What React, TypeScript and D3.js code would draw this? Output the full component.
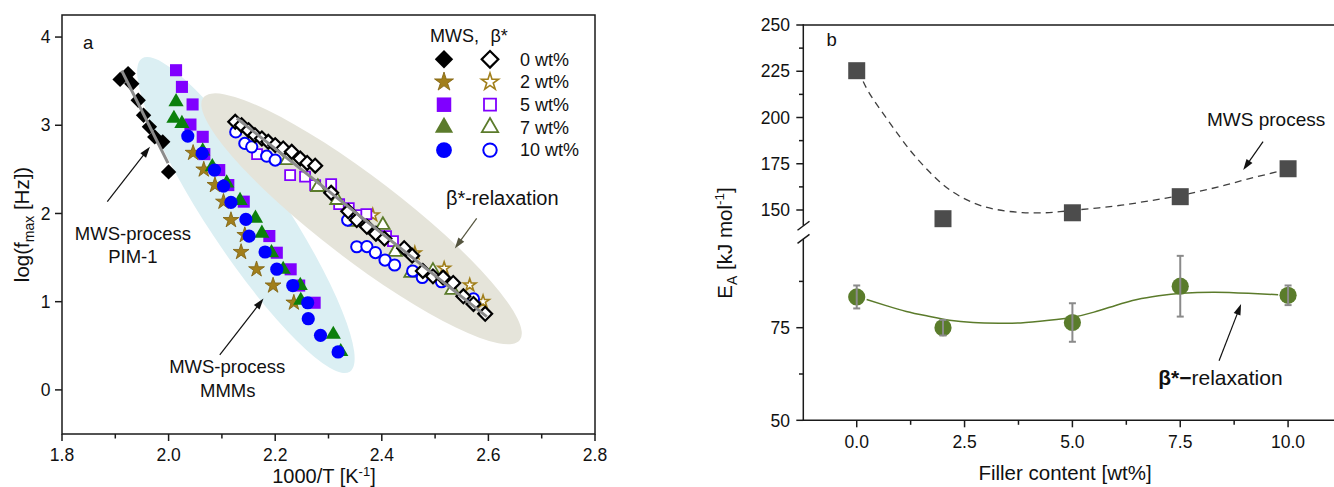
import React from "react";
import * as d3 from "d3";

// ---------- Panel a: Arrhenius plot ----------
// MWS process, PIM-1 (filled diamonds)
const mwsPim = [
  [1.909, 3.52], [1.924, 3.586], [1.931, 3.47], [1.943, 3.284], [1.953, 3.114],
  [1.964, 2.982], [1.974, 2.868], [1.989, 2.812], [2.0, 2.471],
];
// MWS process, MMMs
const mws2 = [
  [2.046, 2.687], [2.066, 2.498], [2.087, 2.322], [2.103, 2.133], [2.117, 1.925],
  [2.143, 1.755], [2.136, 1.563], [2.165, 1.367], [2.196, 1.183], [2.235, 0.989],
];
const mws5 = [
  [2.014, 3.624], [2.025, 3.435], [2.045, 3.236], [2.041, 3.008], [2.064, 2.869],
  [2.067, 2.673], [2.095, 2.492], [2.112, 2.322], [2.141, 2.134], [2.189, 1.744],
  [2.203, 1.555], [2.229, 1.367], [2.245, 1.183], [2.274, 0.988],
];
const mws7 = [
  [2.014, 3.265], [2.01, 3.077], [2.025, 3.019], [2.064, 2.707], [2.082, 2.529],
  [2.109, 2.344], [2.134, 2.146], [2.163, 1.945], [2.175, 1.775], [2.193, 1.554],
  [2.215, 1.366], [2.247, 1.183], [2.248, 1.014], [2.309, 0.629], [2.323, 0.433],
];
const mws10 = [
  [2.036, 2.877], [2.063, 2.681], [2.086, 2.492], [2.103, 2.31], [2.117, 2.126],
  [2.145, 1.933], [2.151, 1.744], [2.181, 1.563], [2.203, 1.368], [2.233, 1.183],
  [2.261, 0.988], [2.262, 0.807], [2.285, 0.619], [2.318, 0.43],
];
// beta*-relaxation (open symbols)
const beta0 = [
  [2.125, 3.039], [2.137, 3.001], [2.15, 2.944], [2.162, 2.888], [2.175, 2.85],
  [2.187, 2.812], [2.2, 2.775], [2.215, 2.737], [2.231, 2.699], [2.247, 2.623],
  [2.26, 2.573], [2.275, 2.542], [2.305, 2.234], [2.337, 2.024], [2.353, 1.925],
  [2.372, 1.849], [2.389, 1.771], [2.405, 1.715], [2.442, 1.607], [2.457, 1.522],
  [2.477, 1.348], [2.496, 1.287], [2.515, 1.274], [2.534, 1.212], [2.553, 1.061],
  [2.572, 0.974], [2.594, 0.863],
];
const beta2 = [
  [2.383, 1.982], [2.462, 1.552], [2.517, 1.378], [2.565, 1.189], [2.59, 1.002],
];
const beta5 = [
  [2.166, 2.673], [2.228, 2.435], [2.256, 2.418], [2.275, 2.322], [2.305, 2.333],
  [2.32, 2.107], [2.338, 2.061], [2.353, 1.982], [2.371, 1.993], [2.408, 1.744],
  [2.421, 1.687],
];
const beta7 = [
  [2.222, 2.605], [2.28, 2.299], [2.316, 2.152], [2.35, 1.903], [2.402, 1.869],
  [2.425, 1.563], [2.455, 1.325], [2.496, 1.348], [2.532, 1.133],
];
const beta10 = [
  [2.126, 2.925], [2.143, 2.794], [2.156, 2.755], [2.184, 2.65], [2.2, 2.605],
  [2.336, 1.925], [2.353, 1.623], [2.372, 1.625], [2.388, 1.557], [2.406, 1.472],
  [2.424, 1.416], [2.458, 1.348], [2.476, 1.274], [2.512, 1.226], [2.572, 1.031],
];
// linear fits
const fitPim = [[1.912, 3.62], [1.999, 2.57]];
const fitBeta = [[2.128, 3.08], [2.597, 0.83]];

const xTicksA = [1.8, 2.0, 2.2, 2.4, 2.6, 2.8];
const xMinorA = [1.9, 2.1, 2.3, 2.5, 2.7];
const yTicksA = [0, 1, 2, 3, 4];
const legendLabels = ["0 wt%", "2 wt%", "5 wt%", "7 wt%", "10 wt%"];

// ---------- Panel b: activation energies ----------
const filler = [0, 2, 5, 7.5, 10];
const eaMws = [225.3, 145.3, 148.5, 157.2, 172.3];
const eaBeta = [83.3, 75.0, 76.4, 86.2, 83.75];
const eaBetaErr = [3.1, 2.1, 5.2, 8.2, 2.65];
const mwsGuide = [
  [0.15, 219.5], [0.35, 211], [0.77, 197], [1.23, 182.5], [1.69, 170.5],
  [2.15, 161], [2.69, 154], [3.23, 150.3], [3.84, 148.6], [4.46, 148.6],
  [5.0, 149.8], [5.62, 151.2], [6.2, 152.8], [6.77, 154.9], [7.35, 157.2],
  [7.93, 160], [8.5, 163.2], [9.08, 166.8], [9.77, 170.8],
];
const betaGuide = [
  [0.23, 82.6], [0.7, 80.9], [1.15, 79.4], [1.7, 78.0], [2.15, 77.0],
  [2.7, 76.4], [3.3, 76.2], [3.8, 76.3], [4.46, 77.0], [5.0, 77.8],
  [5.5, 79.2], [6.0, 81.0], [6.5, 82.6], [7.0, 83.6], [7.54, 84.3],
  [8.3, 84.6], [9.08, 84.3], [9.77, 83.9],
];
const xTicksB = [0, 2.5, 5, 7.5, 10];
const xMinorB = [1.25, 3.75, 6.25, 8.75];
const yTicksLo = [50, 75];
const yMinorLo = [62.5, 87.5];
const yTicksHi = [150, 175, 200, 225, 250];
const yMinorHi = [162.5, 187.5, 212.5, 237.5];

const FONT = "'Liberation Sans', Arial, Helvetica, sans-serif";
const AX = "#1a1a1a";

const sym = (type: any, size: number) => d3.symbol().type(type).size(size)() as string;

// scales
const xA = d3.scaleLinear().domain([1.8, 2.8]).range([62, 595]);
const yA = d3.scaleLinear().domain([-0.5, 4.25]).range([434, 15]);
const xB = d3.scaleLinear().domain([-1.25, 11.25]).range([802.8, 1342]);
const yLo = d3.scaleLinear().domain([50, 100]).range([420.3, 235.1]);
const yHi = d3.scaleLinear().domain([140, 250]).range([228.5, 25]);

const COL = {
  star: "#a17f1b",
  starEdge: "#7d5f0c",
  purple: "#8000ff",
  green: "#0c800c",
  olive: "#5b7b2b",
  blue: "#0000ff",
};

type Pt = number[];

function Ellipse({ a, b, halfWidth, fill }: { a: Pt; b: Pt; halfWidth: number; fill: string }) {
  const x1 = xA(a[0]), y1 = yA(a[1]), x2 = xA(b[0]), y2 = yA(b[1]);
  const cx = (x1 + x2) / 2, cy = (y1 + y2) / 2;
  const rx = Math.hypot(x2 - x1, y2 - y1) / 2;
  const ang = (Math.atan2(y2 - y1, x2 - x1) * 180) / Math.PI;
  return <ellipse cx={cx} cy={cy} rx={rx} ry={halfWidth} fill={fill} transform={`rotate(${ang} ${cx} ${cy})`} />;
}

function Marker({ kind, x, y, open, big }: { kind: string; x: number; y: number; open?: boolean; big?: boolean }) {
  const k = big ? 1.2 : 1;
  const t = `translate(${x},${y})`;
  if (kind === "diamond") {
    return open ? (
      <path d={sym(d3.symbolSquare, 96 * k * k)} transform={`${t} rotate(45)`} fill="#fff" stroke="#000" strokeWidth={2.2} />
    ) : (
      <path d={sym(d3.symbolSquare, 118 * k * k)} transform={`${t} rotate(45)`} fill="#000" />
    );
  }
  if (kind === "star") {
    return open ? (
      <path d={sym(d3.symbolStar, 48 * k * k * (big ? 1.3 : 1))} transform={t} fill="#fff" stroke={COL.star} strokeWidth={1.6} />
    ) : (
      <path d={sym(d3.symbolStar, 78 * k * k)} transform={t} fill={COL.star} stroke={COL.starEdge} strokeWidth={0.8} />
    );
  }
  if (kind === "square") {
    return open ? (
      <path d={sym(d3.symbolSquare, 100 * k * k)} transform={t} fill="#fff" stroke={COL.purple} strokeWidth={1.8} />
    ) : (
      <path d={sym(d3.symbolSquare, 146 * k * k)} transform={t} fill={COL.purple} />
    );
  }
  if (kind === "triangle") {
    return open ? (
      <path d={sym(d3.symbolTriangle, 80 * k * k)} transform={t} fill="#fff" stroke={COL.olive} strokeWidth={1.8} />
    ) : (
      <path d={sym(d3.symbolTriangle, 100 * k * k)} transform={t} fill={big ? COL.olive : COL.green} />
    );
  }
  return open ? (
    <circle cx={x} cy={y} r={5.6 * k} fill="#fff" stroke={COL.blue} strokeWidth={2} />
  ) : (
    <circle cx={x} cy={y} r={6.6 * k} fill={COL.blue} />
  );
}

function Arrow({ from, to, color, width = 1.2, head = 11, half = 3.6 }: any) {
  const [x1, y1] = from, [x2, y2] = to;
  const ang = Math.atan2(y2 - y1, x2 - x1);
  const bx = x2 - head * Math.cos(ang), by = y2 - head * Math.sin(ang);
  const nx = -Math.sin(ang) * half, ny = Math.cos(ang) * half;
  return (
    <g>
      <line x1={x1} y1={y1} x2={bx + Math.cos(ang) * 2} y2={by + Math.sin(ang) * 2} stroke={color} strokeWidth={width} />
      <path d={`M${x2},${y2}L${bx + nx},${by + ny}L${bx - nx},${by - ny}Z`} fill={color} />
    </g>
  );
}

function PanelA() {
  const series: { data: number[][]; kind: string; open: boolean }[] = [
    { data: mwsPim, kind: "diamond", open: false },
    { data: mws2, kind: "star", open: false },
    { data: mws5, kind: "square", open: false },
    { data: mws7, kind: "triangle", open: false },
    { data: mws10, kind: "circle", open: false },
    { data: beta2, kind: "star", open: true },
    { data: beta5, kind: "square", open: true },
    { data: beta7, kind: "triangle", open: true },
    { data: beta10, kind: "circle", open: true },
    { data: beta0, kind: "diamond", open: true },
  ];
  const kinds = ["diamond", "star", "square", "triangle", "circle"];
  const legRow0 = 59.3, legStep = 22.7;
  return (
    <g fontFamily={FONT}>
      {/* highlight regions */}
      <Ellipse a={[1.95, 3.757]} b={[2.34, 0.207]} halfWidth={38.5} fill="#dbeff3" />
      <Ellipse a={[2.065, 3.313]} b={[2.659, 0.566]} halfWidth={41} fill="#e5e4da" />

      {series.map((s, i) => (
        <g key={i}>
          {s.data.map((d, j) => (
            <Marker key={j} kind={s.kind} open={s.open} x={xA(d[0])} y={yA(d[1])} />
          ))}
        </g>
      ))}
      {[fitPim, fitBeta].map((f, i) => (
        <line key={i} x1={xA(f[0][0])} y1={yA(f[0][1])} x2={xA(f[1][0])} y2={yA(f[1][1])} stroke="#8c8c8c" strokeWidth={3} />
      ))}

      {/* frame and axes */}
      <rect x={62} y={15} width={533} height={419} fill="none" stroke={AX} strokeWidth={1.5} />
      {xTicksA.map((t) => (
        <g key={t}>
          <line x1={xA(t)} x2={xA(t)} y1={434} y2={441} stroke={AX} strokeWidth={1.5} />
          <text x={xA(t)} y={461} fontSize={17.5} textAnchor="middle" fill="#111">{t.toFixed(1)}</text>
        </g>
      ))}
      {xMinorA.map((t) => (
        <line key={t} x1={xA(t)} x2={xA(t)} y1={434} y2={438.5} stroke={AX} strokeWidth={1.5} />
      ))}
      {yTicksA.map((t) => (
        <g key={t}>
          <line x1={55} x2={62} y1={yA(t)} y2={yA(t)} stroke={AX} strokeWidth={1.5} />
          <text x={50.5} y={yA(t) + 6.2} fontSize={17.5} textAnchor="end" fill="#111">{t}</text>
        </g>
      ))}
      <text x={324} y={482.8} fontSize={20} textAnchor="middle" fill="#111">
        1000/T [K<tspan dy={-7} fontSize={13}>-1</tspan><tspan dy={7}>]</tspan>
      </text>
      <text transform={`translate(29,${224.5}) rotate(-90)`} fontSize={20.5} textAnchor="middle" fill="#111">
        log(f<tspan dy={5} fontSize={14}>max</tspan><tspan dy={-5}> [Hz])</tspan>
      </text>
      <text x={xA(1.849)} y={yA(3.941) + 6.5} fontSize={18.5} textAnchor="middle" fill="#111">a</text>

      {/* legend */}
      <text x={430} y={41.7} fontSize={18} fill="#111">MWS,</text>
      <text x={490.5} y={41.7} fontSize={18} fill="#111">β*</text>
      {legendLabels.map((lab, i) => {
        const y = legRow0 + i * legStep;
        return (
          <g key={lab}>
            <Marker kind={kinds[i]} x={444} y={y} big />
            <Marker kind={kinds[i]} x={490} y={y} open big />
            <text x={520} y={y + 6.3} fontSize={18} fill="#111">{lab}</text>
          </g>
        );
      })}

      {/* annotations */}
      <Arrow from={[xA(1.885), yA(2.133)]} to={[xA(1.965), yA(2.755)]} color="#111" />
      <text x={xA(1.933)} y={yA(1.699)} fontSize={18.5} textAnchor="middle" fill="#111">MWS-process</text>
      <text x={xA(1.933)} y={yA(1.442)} fontSize={18.5} textAnchor="middle" fill="#111">PIM-1</text>
      <Arrow from={[xA(2.096), yA(0.396)]} to={[xA(2.178), yA(1.036)]} color="#111" />
      <text x={xA(2.11)} y={yA(0.189)} fontSize={18.5} textAnchor="middle" fill="#111">MWS-process</text>
      <text x={xA(2.111)} y={yA(-0.076)} fontSize={18.5} textAnchor="middle" fill="#111">MMMs</text>
      <Arrow from={[xA(2.578), yA(1.944)]} to={[xA(2.537), yA(1.604)]} color="#55553f" />
      <text x={xA(2.626)} y={yA(2.095)} fontSize={20} textAnchor="middle" fill="#111">β*-relaxation</text>
    </g>
  );
}

function PanelB() {
  const mwsLine = d3.line<number[]>().x((d) => xB(d[0])).y((d) => yHi(d[1])).curve(d3.curveNatural);
  const betaLine = d3.line<number[]>().x((d) => xB(d[0])).y((d) => yLo(d[1])).curve(d3.curveNatural);
  const sq = sym(d3.symbolSquare, 17 * 17);
  return (
    <g fontFamily={FONT}>
      <path d={mwsLine(mwsGuide) as string} fill="none" stroke="#3f3f3f" strokeWidth={1.3} strokeDasharray="7 5" />
      <path d={betaLine(betaGuide) as string} fill="none" stroke={COL.olive} strokeWidth={1.5} />
      {filler.map((f, i) => (
        <path key={"s" + i} d={sq} transform={`translate(${xB(f)},${yHi(eaMws[i])})`} fill="#4c4c4c" />
      ))}
      {filler.map((f, i) => {
        const x = xB(f);
        const y1 = yLo(eaBeta[i] + eaBetaErr[i]);
        const y2 = yLo(eaBeta[i] - eaBetaErr[i]);
        return (
          <g key={"b" + i}>
            <circle cx={x} cy={yLo(eaBeta[i])} r={8.6} fill="#5a7c2b" />
            <line x1={x} x2={x} y1={y1} y2={y2} stroke="#8a8a8a" strokeWidth={2} />
            <line x1={x - 3.5} x2={x + 3.5} y1={y1} y2={y1} stroke="#8a8a8a" strokeWidth={2} />
            <line x1={x - 3.5} x2={x + 3.5} y1={y2} y2={y2} stroke="#8a8a8a" strokeWidth={2} />
          </g>
        );
      })}

      {/* axes */}
      <line x1={802.8} x2={1334} y1={25} y2={25} stroke={AX} strokeWidth={1.5} />
      <line x1={802.8} x2={1334} y1={420.3} y2={420.3} stroke={AX} strokeWidth={1.5} />
      <line x1={803.3} x2={803.3} y1={421} y2={yLo(99)} stroke={AX} strokeWidth={1.5} />
      <line x1={803.3} x2={803.3} y1={yHi(141.5)} y2={24.3} stroke={AX} strokeWidth={1.5} />
      <line x1={797.5} x2={809.5} y1={yLo(99) + 4.5} y2={yLo(99) - 4.5} stroke={AX} strokeWidth={1.5} />
      <line x1={797.5} x2={809.5} y1={yHi(141.5) + 4.5} y2={yHi(141.5) - 4.5} stroke={AX} strokeWidth={1.5} />
      {xTicksB.map((t) => (
        <g key={t}>
          <line x1={xB(t)} x2={xB(t)} y1={420.3} y2={427.3} stroke={AX} strokeWidth={1.5} />
          <text x={xB(t)} y={447.5} fontSize={17.5} textAnchor="middle" fill="#111">{t.toFixed(1)}</text>
        </g>
      ))}
      {xMinorB.map((t) => (
        <line key={t} x1={xB(t)} x2={xB(t)} y1={420.3} y2={424.8} stroke={AX} strokeWidth={1.5} />
      ))}
      {yTicksLo.map((t) => (
        <g key={t}>
          <line x1={796.3} x2={803.3} y1={yLo(t)} y2={yLo(t)} stroke={AX} strokeWidth={1.5} />
          <text x={790} y={yLo(t) + 6.2} fontSize={17.5} textAnchor="end" fill="#111">{t}</text>
        </g>
      ))}
      {yMinorLo.map((t) => (
        <line key={t} x1={799} x2={803.3} y1={yLo(t)} y2={yLo(t)} stroke={AX} strokeWidth={1.5} />
      ))}
      {yTicksHi.map((t) => (
        <g key={t}>
          <line x1={796.3} x2={803.3} y1={yHi(t)} y2={yHi(t)} stroke={AX} strokeWidth={1.5} />
          <text x={790} y={yHi(t) + 6.2} fontSize={17.5} textAnchor="end" fill="#111">{t}</text>
        </g>
      ))}
      {yMinorHi.map((t) => (
        <line key={t} x1={799} x2={803.3} y1={yHi(t)} y2={yHi(t)} stroke={AX} strokeWidth={1.5} />
      ))}
      <text x={1065} y={480} fontSize={20.5} textAnchor="middle" fill="#111">Filler content [wt%]</text>
      <text transform={`translate(732,243) rotate(-90)`} fontSize={20.5} textAnchor="middle" fill="#111">
        E<tspan dy={5} fontSize={14}>A</tspan><tspan dy={-5}> [kJ mol</tspan>
        <tspan dy={-8} fontSize={13.5}>-1</tspan><tspan dy={8}>]</tspan>
      </text>
      <text x={xB(-0.583)} y={yHi(242.4) + 6.5} fontSize={18.5} textAnchor="middle" fill="#111">b</text>

      {/* annotations */}
      <text x={xB(8.12)} y={yHi(195.2)} fontSize={19} fill="#111">MWS process</text>
      <Arrow from={[xB(9.42), yHi(187)]} to={[xB(8.96), yHi(171.6)]} color="#111" />
      <text x={xB(6.99)} y={yLo(59.5)} fontSize={21} fill="#111">
        <tspan fontWeight="bold">β*−</tspan>relaxation
      </text>
      <Arrow from={[xB(8.4), yLo(66.1)]} to={[xB(8.91), yLo(81.4)]} color="#111" />
    </g>
  );
}

export default function App() {
  return (
    <div style={{ position: "absolute", left: 0, top: 0, width: 1334, height: 487, background: "#fff" }}>
      <svg width={1334} height={487} viewBox="0 0 1334 487" style={{ display: "block" }}>
        <rect width={1334} height={487} fill="#fff" />
        <PanelA />
        <PanelB />
      </svg>
    </div>
  );
}
